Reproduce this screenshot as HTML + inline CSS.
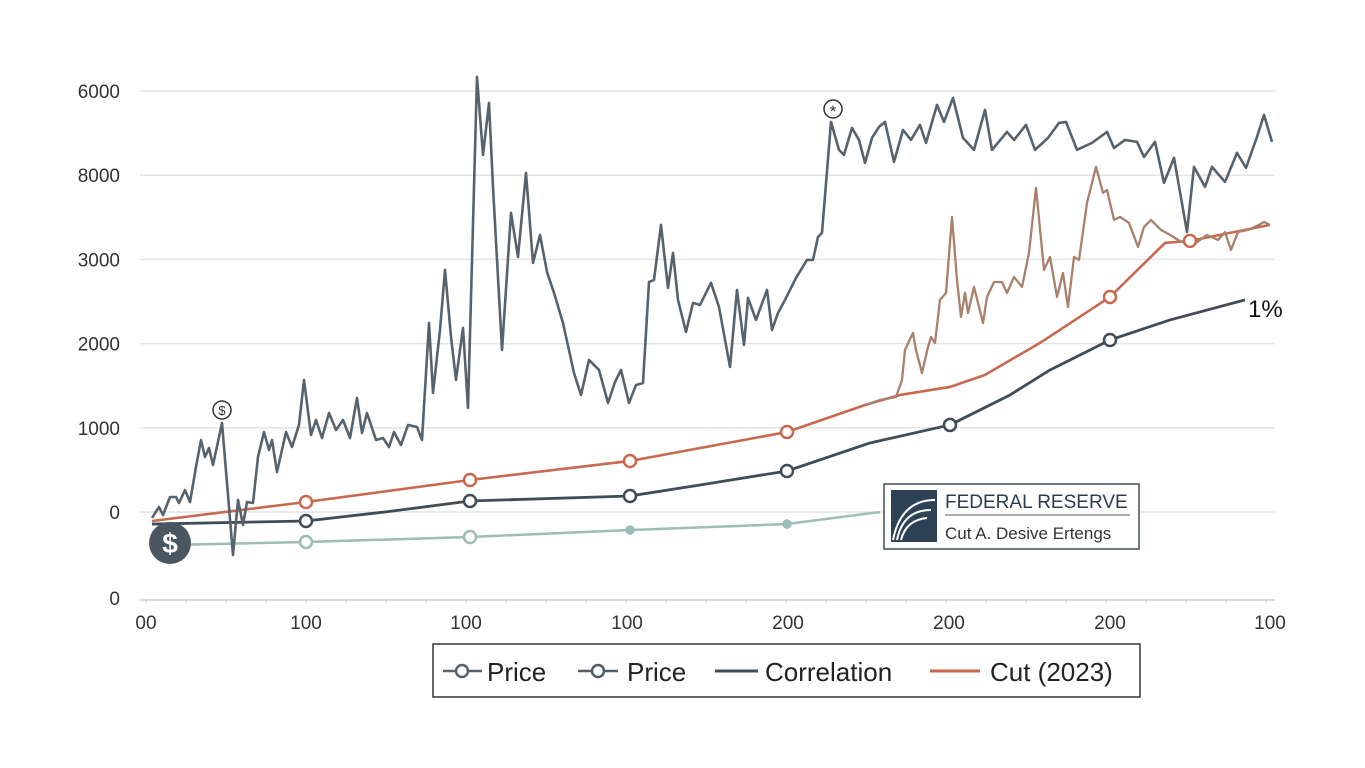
<!DOCTYPE html>
<html><head><meta charset="utf-8"><style>
body{margin:0;background:#fff;font-family:"Liberation Sans",sans-serif;}
svg{display:block}
</style></head><body>
<svg id="chart" width="1365" height="768" xmlns="http://www.w3.org/2000/svg"></svg>
<script>
const xTicks=[0,160,320,481,642,803,964,1124];
const xTickLabels=["00","100","100","100","200","200","200","100"];
const yTicks=[-1000,0,1000,2000,3000,4000,5000];
const yTickLabels=["0","0","1000","2000","3000","8000","6000"];
const priceDays=[6,13,17,24,30,33,39,44,50,55,59,63,67,76,87,92,97,101,107,112,118,123,126,131,140,146,153,158,165,170,176,183,190,197,204,211,216,221,230,237,243,248,255,262,271,276,283,287,294,299,305,310,317,322,331,337,343,347,356,365,372,380,387,394,401,408,417,428,435,443,453,462,469,475,483,490,497,503,508,515,522,527,532,540,547,554,565,573,584,591,598,602,610,621,626,632,639,650,661,667,672,676,685,693,698,706,713,719,726,733,739,748,757,765,774,780,791,798,807,817,828,839,846,861,868,880,889,902,913,920,931,946,961,968,979,991,998,1009,1018,1028,1041,1048,1059,1066,1079,1091,1100,1111,1118,1126];
const priceValues=[-71,59,-36,178,178,107,261,119,535,855,653,760,558,1057,-511,143,-154,119,107,653,950,737,855,475,950,772,1034,1568,915,1093,879,1176,974,1093,879,1354,939,1176,855,879,772,950,796,1034,1010,855,2245,1414,2162,2875,2079,1568,2186,1236,5168,4241,4859,3861,1925,3552,3029,4027,2958,3291,2851,2602,2245,1651,1390,1806,1687,1295,1544,1687,1295,1509,1532,2732,2756,3410,2661,3077,2519,2138,2483,2459,2721,2435,1723,2637,1984,2542,2281,2637,2162,2364,2519,2780,2994,2994,3267,3315,4633,4301,4241,4562,4419,4146,4443,4574,4633,4158,4538,4419,4598,4384,4835,4633,4918,4443,4301,4776,4301,4514,4419,4598,4301,4443,4621,4633,4301,4384,4514,4324,4419,4396,4217,4396,3909,4206,3326,4099,3861,4099,3920,4265,4087,4455,4716,4396];
const price2Days=[720,734,750,756,759,767,770,776,782,785,789,794,800,806,811,815,819,822,828,837,841,848,856,861,868,876,883,890,898,904,911,917,922,928,933,941,950,957,961,968,974,983,992,998,1005,1015,1024,1035,1050,1061,1072,1079,1085,1092,1102,1113,1118,1124];
const price2Values=[1271,1331,1366,1568,1925,2127,1925,1651,1960,2079,2008,2519,2602,3505,2756,2317,2602,2364,2673,2245,2554,2732,2732,2602,2792,2673,3077,3849,2875,3029,2554,2839,2435,3029,2994,3671,4099,3790,3825,3469,3505,3433,3148,3386,3469,3350,3291,3208,3196,3291,3231,3326,3113,3326,3350,3410,3445,3410];
const cutDays=[6,160,324,484,641,719,754,804,839,894,964,1019,1044,1124];
const cutValues=[-107,119,380,606,950,1271,1390,1485,1628,2008,2554,3196,3220,3410];
const cutMarkers=[1,2,3,4,10,12];
const corrDays=[6,160,239,324,484,554,641,724,804,864,904,964,1024,1099];
const corrValues=[-143,-107,0,131,190,321,487,820,1034,1390,1687,2043,2281,2519];
const corrMarkers=[1,3,4,6,8,11];
const tealDays=[24,160,324,484,641,734];
const tealValues=[-392,-356,-297,-214,-143,0];

const NS="http://www.w3.org/2000/svg";
const svg=document.getElementById('chart');
const X=d=>146+d;
const Y=v=>512-v*0.0842;
function el(t,a,p){const e=document.createElementNS(NS,t);for(const k in a)e.setAttribute(k,a[k]);(p||svg).appendChild(e);return e;}
// grid
yTicks.forEach((t,i)=>{
 if(i>0){const g=el('line',{x1:140,x2:1275,y1:Y(t),y2:Y(t),stroke:'#e2e4e6','stroke-width':1.5});
 
 }
 const tx=el('text',{x:120,y:(i==0?598:Y(t))+7,'text-anchor':'end','font-size':19,fill:'#333'});
 tx.textContent=yTickLabels[i];
 
 
});
const ax=el('line',{x1:140,x2:1275,y1:600,y2:600,stroke:'#ccc','stroke-width':1.5});


for(let d=0;d<=1125;d+=40){el('line',{x1:X(d),x2:X(d),y1:600,y2:604,stroke:'#ccc'});}
xTicks.forEach((t,i)=>{
 const tx=el('text',{x:X(t),y:629,'text-anchor':'middle','font-size':19,fill:'#333'});
 tx.textContent=xTickLabels[i];
 
 
});
function line(days,vals,color,w,name){
 const p=el('polyline',{points:days.map((d,i)=>X(d)+','+Y(vals[i])).join(' '),fill:'none',stroke:color,'stroke-width':w,'stroke-linejoin':'round'});
 
 
 return p;
}
function marker(d,v,color,name,filled,r){
 const c=el('circle',{cx:X(d),cy:Y(v),r:r||6,fill:filled?color:'#fff',stroke:color,'stroke-width':2.5});
 
 
}
line(tealDays,tealValues,'#9dbdb6',2.5,'teal-price-line');
marker(tealDays[1],tealValues[1],'#9dbdb6','teal-marker');
marker(tealDays[2],tealValues[2],'#9dbdb6','teal-marker');
marker(tealDays[3],tealValues[3],'#9dbdb6','teal-marker',true,3.5);
marker(tealDays[4],tealValues[4],'#9dbdb6','teal-marker',true,3.5);
line(corrDays,corrValues,'#3f4d58',2.8,'correlation-line');
line(cutDays,cutValues,'#c8694f',2.6,'cut-2023-line');
line(price2Days,price2Values,'#a9806b',2.3,'price-2-line');
line(priceDays,priceValues,'#56636d',2.6,'price-line');
corrMarkers.forEach(i=>marker(corrDays[i],corrValues[i],'#3f4d58','correlation-marker'));
cutMarkers.forEach(i=>marker(cutDays[i],cutValues[i],'#c8694f','cut-marker'));
</script>
<svg style="position:absolute;left:0;top:0" width="1365" height="768">
 <g><circle cx="170" cy="543" r="21" fill="#4a5660"/><text x="170" y="553" text-anchor="middle" font-size="28" font-weight="bold" fill="#fff" font-family="Liberation Sans">$</text></g>
 <g><circle cx="222" cy="410" r="9" fill="#fff" stroke="#333" stroke-width="1.5"/><text x="222" y="415" text-anchor="middle" font-size="13" fill="#333" font-family="Liberation Sans">$</text></g>
 <g><circle cx="833" cy="109" r="9" fill="#fff" stroke="#333" stroke-width="1.5"/><text x="833" y="117" text-anchor="middle" font-size="17" fill="#333" font-family="Liberation Sans">*</text></g>
 <text x="1248" y="317" font-size="24" fill="#111" font-family="Liberation Sans">1%</text>
 <g>
  <rect x="884" y="484" width="255" height="65" fill="#fff" stroke="#3f4d58" stroke-width="1.5"/>
  <rect x="891" y="490" width="46" height="52" fill="#2e4256"/>
  <path d="M893 540 q8-40 42-40 M897 540 q6-30 34-30 M901 540 q5-20 26-22" stroke="#fff" stroke-width="2" fill="none"/>
  <text x="945" y="508" font-size="19" fill="#2e3d4b" font-family="Liberation Sans">FEDERAL RESERVE</text>
  <line x1="945" y1="515" x2="1130" y2="515" stroke="#555"/>
  <text x="945" y="539" font-size="17" fill="#333" font-family="Liberation Sans">Cut A. Desive Ertengs</text>
 </g>
 <g>
  <rect x="433" y="644" width="707" height="53" fill="#fff" stroke="#333" stroke-width="1.5"/>
  <g><line x1="443" y1="671" x2="482" y2="671" stroke="#56636d" stroke-width="2.5"/><circle cx="462" cy="671" r="6" fill="#fff" stroke="#56636d" stroke-width="2.5"/><text x="487" y="681" font-size="26" fill="#222" font-family="Liberation Sans">Price</text></g>
  <g><line x1="578" y1="671" x2="618" y2="671" stroke="#4f5e68" stroke-width="2.5"/><circle cx="598" cy="671" r="6" fill="#fff" stroke="#4f5e68" stroke-width="2.5"/><text x="627" y="681" font-size="26" fill="#222" font-family="Liberation Sans">Price</text></g>
  <g><line x1="715" y1="671" x2="758" y2="671" stroke="#3f4d58" stroke-width="3"/><text x="765" y="681" font-size="26" fill="#222" font-family="Liberation Sans">Correlation</text></g>
  <g><line x1="930" y1="671" x2="980" y2="671" stroke="#c8694f" stroke-width="3"/><text x="990" y="681" font-size="26" fill="#222" font-family="Liberation Sans">Cut (2023)</text></g>
 </g>
</svg>
</body></html>
